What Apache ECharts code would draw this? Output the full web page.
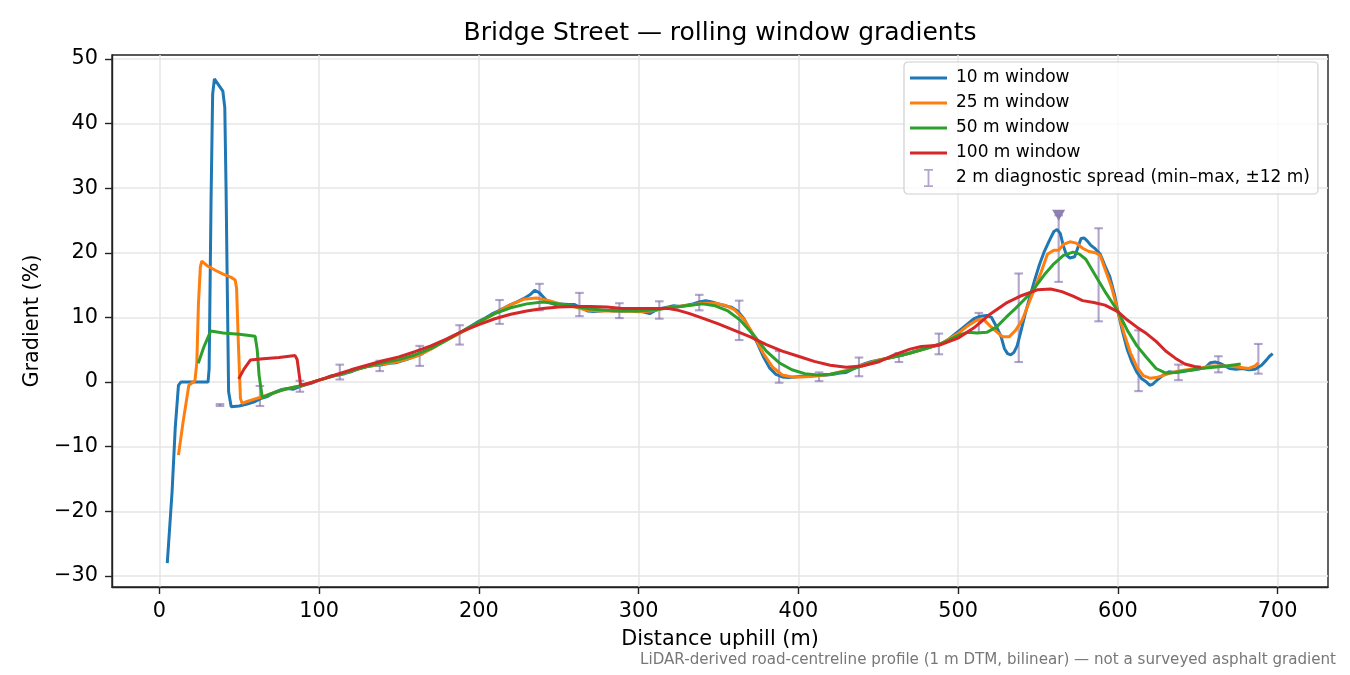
<!DOCTYPE html>
<html>
<head>
<meta charset="utf-8">
<script src="https://cdn.jsdelivr.net/npm/echarts@6/dist/echarts.min.js"></script>
<style>
  html, body { margin: 0; padding: 0; background: #fff; }
  #chart { width: 1350px; height: 675px; }
</style>
</head>
<body>
<div id="chart"></div>
<script>
// rolling window gradient profiles, [distance m, gradient %]
var win10 = [[5,-28.0],[8,-17],[10,-7],[12,-0.5],[13.5,0],[30.5,0],[31.2,2],[32.4,28],[33.4,44.5],[34.5,46.9],[39.8,45.0],[41,42.5],[41.8,30],[42.6,14],[43.4,-1.5],[45,-3.8],[50,-3.7],[55,-3.4],[60,-3.0],[64,-2.5],[68,-2.2],[72,-1.6],[76,-1.2],[80,-1.0],[84,-1.1],[88,-0.7],[92,-0.4],[96,-0.1],[100,0.3],[104,0.6],[108,1.0],[112,1.1],[116,1.3],[120,1.6],[124,2.0],[128,2.3],[132,2.5],[136,2.6],[140,2.7],[144,2.9],[148,3.0],[152,3.3],[156,3.6],[160,4.0],[164,4.3],[168,4.9],[172,5.4],[176,6.0],[180,6.6],[184,7.1],[188,7.6],[192,8.2],[196,8.8],[200,9.4],[204,9.9],[208,10.5],[212,11.0],[216,11.5],[220,12.0],[224,12.4],[228,12.9],[232,13.5],[235,14.2],[238,13.8],[241,13.0],[244,12.3],[248,12.0],[252,12.1],[256,12.0],[260,12.0],[264,11.5],[268,11.0],[272,10.9],[276,11.0],[280,11.1],[284,11.0],[288,11.0],[292,11.0],[296,11.1],[300,11.0],[304,10.8],[307,10.6],[310,11.0],[314,11.4],[318,11.6],[322,11.8],[326,11.7],[330,11.9],[334,12.1],[338,12.4],[342,12.6],[346,12.4],[350,12.1],[354,11.8],[358,11.6],[362,11.0],[366,9.8],[370,8.0],[374,6.2],[378,4.0],[382,2.2],[386,1.2],[390,0.8],[394,0.7],[398,0.8],[402,0.9],[406,0.9],[410,1.0],[414,1.0],[418,1.1],[422,1.2],[426,1.4],[430,1.5],[434,2.0],[438,2.5],[442,2.9],[446,3.2],[450,3.4],[454,3.6],[458,3.8],[462,4.0],[466,4.2],[470,4.5],[474,4.8],[478,5.1],[482,5.4],[486,5.6],[490,6.0],[494,6.6],[498,7.4],[502,8.2],[506,9.0],[510,9.8],[514,10.2],[518,10.3],[521,10.0],[524,8.6],[527,7.0],[529,5.2],[531,4.4],[533,4.2],[535,4.6],[537,5.6],[539,7.5],[542,10.5],[545,13.2],[548,15.8],[551,18.2],[554,20.2],[557,21.8],[560,23.3],[562,23.6],[564,23.0],[566,21.0],[568,19.6],[570,19.2],[573,19.4],[575,20.8],[577,22.2],[579,22.3],[581,21.8],[583,21.2],[586,20.6],[589,19.8],[592,18.0],[595,16.3],[598,13.5],[600,11.0],[603,7.8],[606,5.0],[609,3.0],[612,1.5],[615,0.5],[618,0.0],[620,-0.5],[622,-0.3],[625,0.4],[628,1.0],[632,1.6],[636,1.5],[640,1.6],[644,1.8],[648,1.9],[652,2.1],[655,2.3],[658,3.0],[661,3.1],[664,2.9],[667,2.5],[670,2.1],[674,2.0],[678,2.1],[682,1.9],[686,2.0],[690,2.6],[693,3.4],[695,4.0],[697,4.4]];
var win25 = [[12,-11.3],[15,-6],[18.5,-0.5],[22.3,0.2],[23.5,3],[24.5,12],[25.7,17.8],[26.6,18.7],[30,18.0],[35,17.3],[40,16.7],[45,16.2],[47.5,15.8],[48.4,14.5],[49.5,6],[50.8,-2.5],[51.8,-3.3],[55,-3.0],[60,-2.6],[64,-2.3],[70,-1.8],[76,-1.3],[82,-0.9],[88,-0.6],[94,-0.2],[100,0.3],[110,1.0],[120,1.7],[130,2.4],[140,2.8],[150,3.2],[160,3.9],[170,5.1],[180,6.5],[190,7.8],[200,9.2],[210,10.6],[220,12.0],[228,12.8],[236,13.0],[244,12.6],[252,12.0],[260,11.6],[268,11.1],[276,11.0],[284,11.0],[292,11.0],[300,10.9],[308,11.0],[316,11.4],[324,11.7],[332,11.9],[340,12.2],[348,12.2],[354,11.9],[360,11.2],[366,9.7],[372,7.3],[378,4.5],[384,2.3],[390,1.1],[396,0.8],[402,0.8],[410,0.9],[420,1.2],[430,1.8],[440,2.6],[450,3.4],[460,3.9],[470,4.5],[480,5.2],[490,6.0],[500,7.5],[506,8.7],[512,9.6],[516,9.7],[520,8.7],[524,7.8],[528,7.0],[532,7.0],[536,8.0],[540,9.5],[544,12.0],[548,14.5],[552,17.0],[556,19.8],[560,20.4],[563,20.4],[566,21.3],[570,21.7],[574,21.5],[578,20.7],[582,20.2],[586,20.0],[589,19.6],[592,17.5],[596,14.8],[600,11.0],[604,7.5],[608,4.5],[612,2.3],[616,1.0],[620,0.6],[624,0.7],[628,1.0],[632,1.3],[636,1.6],[640,1.8],[646,2.0],[652,2.2],[658,2.5],[664,2.5],[670,2.5],[676,2.3],[682,2.1],[686,2.5],[688,3.0]];
var win50 = [[24.4,2.9],[28,5.5],[32.2,7.9],[40,7.6],[50,7.4],[60,7.1],[61.3,5],[62.5,1],[64.5,-2.4],[70,-1.8],[76,-1.3],[82,-0.9],[88,-0.6],[100,0.3],[110,1.0],[120,1.7],[130,2.4],[140,3.0],[150,3.5],[160,4.2],[170,5.2],[180,6.5],[190,7.9],[200,9.3],[210,10.6],[220,11.5],[230,12.1],[240,12.4],[250,12.1],[260,11.7],[270,11.3],[280,11.1],[290,11.0],[300,11.0],[310,11.2],[320,11.5],[330,11.8],[340,12.1],[348,11.8],[356,11.0],[364,9.5],[372,7.3],[380,4.8],[388,3.0],[396,1.9],[404,1.3],[412,1.1],[420,1.2],[430,1.7],[440,2.5],[450,3.3],[460,3.9],[470,4.5],[480,5.2],[490,6.0],[500,7.2],[506,7.7],[512,7.6],[518,7.7],[524,8.5],[530,10.0],[536,11.4],[542,12.9],[548,14.6],[554,16.6],[560,18.3],[566,19.6],[572,20.1],[576,19.8],[580,19.0],[586,16.5],[592,14.0],[600,11.0],[606,8.0],[612,5.6],[618,3.8],[624,2.1],[630,1.4],[636,1.5],[644,1.8],[652,2.1],[660,2.3],[668,2.5],[677,2.8]];
var win100 = [[49.7,0.5],[53,2],[57,3.4],[65,3.6],[75,3.8],[85,4.1],[86.3,3.5],[88.5,-0.5],[95,-0.1],[100,0.3],[110,1.1],[120,1.9],[130,2.6],[140,3.3],[150,3.9],[160,4.7],[170,5.6],[180,6.7],[190,7.9],[200,8.9],[210,9.8],[220,10.5],[230,11.0],[240,11.4],[250,11.6],[260,11.7],[270,11.7],[280,11.6],[290,11.4],[300,11.4],[310,11.4],[318,11.4],[325,11.1],[332,10.6],[340,9.9],[350,9.0],[360,8.0],[370,7.0],[380,5.8],[390,4.8],[400,4.0],[410,3.2],[420,2.6],[430,2.3],[440,2.5],[450,3.1],[460,4.2],[470,5.1],[477,5.5],[488,5.7],[500,6.8],[510,8.4],[520,10.5],[530,12.2],[540,13.4],[550,14.3],[558,14.4],[565,14.0],[572,13.3],[578,12.6],[585,12.3],[592,11.9],[600,10.9],[606,9.6],[612,8.5],[618,7.5],[624,6.3],[630,4.8],[636,3.7],[642,2.8],[648,2.4],[652,2.3]];

// 2 m diagnostic spread, min..max over +-12 m
var spreadX  = [38, 63, 88, 113, 138, 163, 188, 213, 238, 263, 288, 313, 338, 363, 388, 413, 438, 463, 488, 513, 538, 563, 588, 613, 638, 663, 688];
var spreadLo = [-3.7, -3.7, -1.5, 0.4, 1.7, 2.5, 5.8, 9.0, 11.1, 10.2, 9.9, 9.8, 11.1, 6.5, -0.1, 0.15, 0.9, 3.1, 4.3, 7.6, 3.1, 15.5, 9.4, -1.4, 0.3, 1.5, 1.3];
var spreadHi = [-3.4, -0.6, 0.2, 2.7, 3.3, 5.6, 8.8, 12.7, 15.2, 13.8, 12.2, 12.5, 13.5, 12.6, 4.8, 1.5, 3.8, 4.5, 7.5, 10.7, 16.8, 25.8, 23.8, 8.0, 2.7, 4.0, 5.9];
// flagged maximum
var flagX = [563];
var flagY = [25.8];

var xTicks = [0, 100, 200, 300, 400, 500, 600, 700];
var yTicks = [-30, -20, -10, 0, 10, 20, 30, 40, 50];

var spreadName = '2 m diagnostic spread (min\u2013max, \u00b112 m)';
var spreadColor = 'rgba(125,105,170,0.6)';
var font = 'DejaVu Sans';
var lineIcon = 'path://M0,0H40V3.3H0Z';

var spreadData = spreadX.map(function (x, i) { return [x, spreadLo[i], spreadHi[i]]; });
var flagData = flagX.map(function (x, i) { return [x, flagY[i]]; });

function lineSeries(name, data, color) {
    return {
        name: name,
        type: 'line',
        data: data,
        symbol: 'none',
        smooth: false,
        lineStyle: { color: color, width: 3 },
        itemStyle: { color: color },
        z: 3,
        animation: false
    };
}

var myChart = echarts.init(document.getElementById('chart'));
var option = {
    backgroundColor: '#fff',
    animation: false,
    grid: {
        left: 112, right: 22, top: 55, bottom: 88,
        show: true, borderColor: '#222', borderWidth: 1.4, backgroundColor: 'transparent'
    },
    xAxis: {
        type: 'value',
        min: -29.6, max: 731.6,
        name: 'Distance uphill (m)',
        nameLocation: 'middle',
        nameGap: 42,
        nameTextStyle: { fontFamily: font, fontSize: 20.8, color: '#000' },
        axisLine: { show: true, onZero: false, lineStyle: { color: '#222', width: 1.4 } },
        axisTick: { show: true, length: 7, lineStyle: { color: '#222', width: 1.4 }, customValues: xTicks },
        axisLabel: { fontFamily: font, fontSize: 20.8, color: '#000', margin: 14, customValues: xTicks },
        splitLine: { show: true, lineStyle: { color: '#e6e6e6', width: 1.5 } }
    },
    yAxis: {
        type: 'value',
        min: -31.7, max: 50.6,
        name: 'Gradient (%)',
        nameLocation: 'middle',
        nameGap: 66,
        nameTextStyle: { fontFamily: font, fontSize: 20.8, color: '#000' },
        axisLine: { show: true, onZero: false, lineStyle: { color: '#222', width: 1.4 } },
        axisTick: { show: true, length: 7, lineStyle: { color: '#222', width: 1.4 }, customValues: yTicks },
        axisLabel: {
            fontFamily: font, fontSize: 20.8, color: '#000', margin: 14, customValues: yTicks,
            formatter: function (v) { return v < 0 ? '\u2212' + Math.abs(v) : String(v); }
        },
        splitLine: { show: true, lineStyle: { color: '#e6e6e6', width: 1.5 } }
    },
    legend: {
        left: 904, top: 62,
        orient: 'vertical',
        padding: [7, 8, 7, 6],
        itemWidth: 37, itemHeight: 18, itemGap: 7,
        backgroundColor: 'rgba(255,255,255,0.8)',
        borderColor: '#d0d0d0', borderWidth: 1.2, borderRadius: 4,
        textStyle: { fontFamily: font, fontSize: 17, color: '#000', lineHeight: 18, padding: [0, 0, 0, 4] },
        data: [
            { name: '10 m window', icon: lineIcon },
            { name: '25 m window', icon: lineIcon },
            { name: '50 m window', icon: lineIcon },
            { name: '100 m window', icon: lineIcon },
            { name: spreadName, icon: 'path://M0,0H9V1.8H0Z M3.6,0H5.4V18H3.6Z M0,16.2H9V18H0Z', itemStyle: { color: spreadColor } }
        ]
    },
    graphic: [
        { type: 'text', x: 720, y: 33, style: { text: 'Bridge Street \u2014 rolling window gradients', fontFamily: font, fontSize: 25, fill: '#000', textAlign: 'center', textVerticalAlign: 'middle' } },
        { type: 'text', x: 1336, y: 660, style: { text: 'LiDAR-derived road-centreline profile (1 m DTM, bilinear) \u2014 not a surveyed asphalt gradient', fontFamily: font, fontSize: 15.1, fill: '#777', textAlign: 'right', textVerticalAlign: 'middle' } }
    ],
    series: [
        lineSeries('10 m window', win10, '#1f77b4'),
        lineSeries('25 m window', win25, '#ff7f0e'),
        lineSeries('50 m window', win50, '#2ca02c'),
        lineSeries('100 m window', win100, '#d62728'),
        {
            name: spreadName,
            type: 'custom',
            data: spreadData,
            z: 2,
            itemStyle: { color: spreadColor },
            encode: { x: 0, y: [1, 2] },
            renderItem: function (params, api) {
                var x = api.value(0);
                var lo = api.coord([x, api.value(1)]);
                var hi = api.coord([x, api.value(2)]);
                var cap = 4.3;
                var st = { stroke: spreadColor, lineWidth: 2.1, fill: null };
                return {
                    type: 'group',
                    children: [
                        { type: 'line', shape: { x1: lo[0], y1: lo[1], x2: hi[0], y2: hi[1] }, style: st },
                        { type: 'line', shape: { x1: lo[0] - cap, y1: lo[1], x2: lo[0] + cap, y2: lo[1] }, style: st },
                        { type: 'line', shape: { x1: hi[0] - cap, y1: hi[1], x2: hi[0] + cap, y2: hi[1] }, style: st }
                    ]
                };
            },
            animation: false
        },
        {
            name: 'flag',
            type: 'scatter',
            data: flagData,
            symbol: 'triangle',
            symbolRotate: 180,
            symbolSize: [13, 11],
            itemStyle: { color: '#8a7aae', opacity: 0.95 },
            z: 4,
            animation: false
        }
    ]
};
myChart.setOption(option);
</script>
</body>
</html>
